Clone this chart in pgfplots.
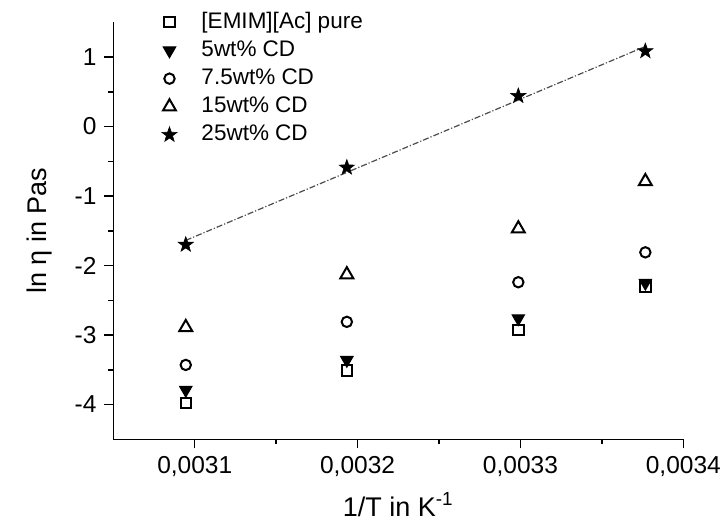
\documentclass[border=0pt]{standalone}
\usepackage{fontspec}
\setmainfont{Liberation Sans}
\usepackage{pgfplots}
\pgfplotsset{compat=1.18}
\usetikzlibrary{plotmarks}

\pgfdeclareplotmark{fivestar}{%
  \pgfpathmoveto{\pgfpointpolar{90}{\pgfplotmarksize}}%
  \pgfpathlineto{\pgfpointpolar{126}{0.4\pgfplotmarksize}}%
  \pgfpathlineto{\pgfpointpolar{162}{\pgfplotmarksize}}%
  \pgfpathlineto{\pgfpointpolar{198}{0.4\pgfplotmarksize}}%
  \pgfpathlineto{\pgfpointpolar{234}{\pgfplotmarksize}}%
  \pgfpathlineto{\pgfpointpolar{270}{0.4\pgfplotmarksize}}%
  \pgfpathlineto{\pgfpointpolar{306}{\pgfplotmarksize}}%
  \pgfpathlineto{\pgfpointpolar{342}{0.4\pgfplotmarksize}}%
  \pgfpathlineto{\pgfpointpolar{18}{\pgfplotmarksize}}%
  \pgfpathlineto{\pgfpointpolar{54}{0.4\pgfplotmarksize}}%
  \pgfpathclose
  \pgfusepathqfillstroke}

\begin{document}
\fontsize{11.25pt}{13.5pt}\selectfont
\begin{tikzpicture}
\useasboundingbox (-56.65pt,-41.85pt) rectangle (304.85pt,219.65pt);
\begin{axis}[
  at={(0pt,0pt)}, anchor=south west, scale only axis,
  width=285pt, height=208.5pt,
  xmin=0.00305, xmax=0.0034, ymin=-4.5, ymax=1.5,
  axis lines*=left,
  axis line style={line width=0.75pt},
  tick align=outside, major tick length=4.5pt, minor tick length=2.5pt,
  every tick/.style={black, line width=0.75pt},
  xtick={0.0031,0.0032,0.0033,0.0034},
  xticklabels={{0,0031},{0,0032},{0,0033},{0,0034}},
  scaled x ticks=false,
  ytick={-4,-3,-2,-1,0,1},
  yticklabels={-4,-3,-2,-1,0,1},
  minor x tick num=1, minor y tick num=1,
  tick label style={font=\fontsize{12.25pt}{14pt}\selectfont},
  xlabel={1/T in K\textsuperscript{-1}},
  ylabel={ln η in Pas},
  label style={font=\fontsize{13.5pt}{16pt}\selectfont},
  xlabel style={at={(axis description cs:0.5,-0.185)}, anchor=base},
  ylabel style={at={(axis description cs:-0.1286,0.5)}, anchor=center},
  legend cell align=left,
  legend image code/.code={\draw[#1] plot coordinates {(0pt,0pt)};
    \path[draw=none, fill=none] (0pt,0pt) -- (14pt,0pt);},
  legend style={at={(axis description cs:0.074,1.044)}, anchor=north west,
    draw=none, fill=none, font=\fontsize{11.25pt}{13.5pt}\selectfont,
    row sep=0.5pt},
]
\addplot[forget plot, black!70, line width=0.6pt,
  dash pattern=on 3pt off 1pt on 0.6pt off 1pt]
  coordinates {(0.0030945,-1.638) (0.0033767,1.153)};
\addplot[only marks, mark=square, mark size=2.6pt,
  mark options={line width=1pt, fill=white, draw=black}]
  coordinates {(0.0030945,-3.98) (0.0031934,-3.51) (0.0032987,-2.93) (0.0033767,-2.30)};
\addlegendentry{[EMIM][Ac] pure}
\addplot[only marks, mark=triangle*, mark size=3.6pt,
  mark options={rotate=180, fill=black, draw=black, line width=0.5pt}]
  coordinates {(0.0030945,-3.79) (0.0031934,-3.36) (0.0032987,-2.76) (0.0033767,-2.25)};
\addlegendentry{5wt\% CD}
\addplot[only marks, mark=o, mark size=2.6pt,
  mark options={line width=1pt, draw=black}]
  coordinates {(0.0030945,-3.43) (0.0031934,-2.81) (0.0032987,-2.24) (0.0033767,-1.81)};
\addlegendentry{7.5wt\% CD}
\addplot[only marks, mark=triangle, mark size=3.75pt,
  mark options={line width=1pt, draw=black}]
  coordinates {(0.0030945,-2.89) (0.0031934,-2.13) (0.0032987,-1.47) (0.0033767,-0.79)};
\addlegendentry{15wt\% CD}
\addplot[only marks, mark=fivestar, mark size=4pt,
  mark options={fill=black, draw=black, line width=0.3pt}]
  coordinates {(0.0030945,-1.70) (0.0031934,-0.59) (0.0032987,0.44) (0.0033767,1.085)};
\addlegendentry{25wt\% CD}
\end{axis}
\end{tikzpicture}
\end{document}
